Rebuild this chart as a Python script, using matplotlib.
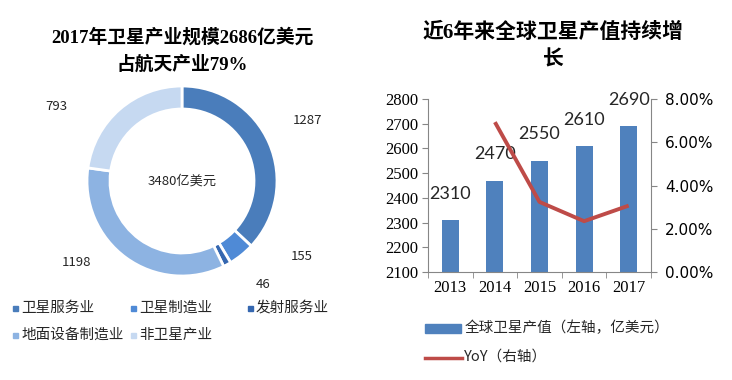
import numpy as np
import matplotlib
matplotlib.use("Agg")
import matplotlib.pyplot as plt
from matplotlib.patches import Rectangle
from matplotlib.lines import Line2D

plt.rcParams['font.family'] = ['Noto Sans CJK SC', 'DejaVu Sans']

# 左图：2017年卫星产业构成（亿美元）
segments = ['卫星服务业', '卫星制造业', '发射服务业', '地面设备制造业', '非卫星产业']
segment_values = [1287, 155, 46, 1198, 793]
total_label = '3480亿美元'

# 右图：全球卫星产值
years = ['2013', '2014', '2015', '2016', '2017']
output_values = [2310, 2470, 2550, 2610, 2690]
yoy_years = ['2014', '2015', '2016', '2017']
yoy_values = [6.93, 3.24, 2.35, 3.07]   # %

seg_colors = ['#4a7dbb', '#4f8ad6', '#3567b0', '#8db3e2', '#c6d9f1']
bar_color = '#4f81bd'
line_color = '#be4b48'
axis_gray = '#868686'

W, H = 732, 380
fig = plt.figure(figsize=(W / 100, H / 100), dpi=100)

# ---------- 左：环形图 ----------
axp = fig.add_axes([0, 0, 366 / W, 1])
cx, cy, R = 182, H - 181, 95
axp.pie(segment_values, colors=seg_colors, startangle=90, counterclock=False,
        center=(cx, cy), radius=R,
        wedgeprops=dict(width=23, edgecolor='white', linewidth=2))
axp.set_xlim(0, 366)
axp.set_ylim(0, H)
axp.set_aspect('auto')
axp.axis('off')

# 全图像素坐标的覆盖层（y向下）
ov = fig.add_axes([0, 0, 1, 1])
ov.set_xlim(0, W)
ov.set_ylim(H, 0)
ov.axis('off')

ov.text(182, 51, '2017年卫星产业规模2686亿美元\n占航天产业79%', ha='center', va='center',
        fontsize=13.5, fontweight='heavy', linespacing=1.6,
        family=['Liberation Serif', 'Noto Sans CJK SC'])
ov.text(182, 181, total_label, ha='center', va='center', fontsize=9.5, color='#262626')

label_pos = [(308, 120), (302, 257), (263, 285), (77, 263), (56, 107)]
for v, (px, py) in zip(segment_values, label_pos):
    ov.text(px, py, str(v), ha='center', va='center', fontsize=9.5, color='#262626')

legend_pos = [(15, 308), (133, 308), (250, 308), (15, 335), (133, 335)]
for name, c, (px, py) in zip(segments, seg_colors, legend_pos):
    ov.add_patch(Rectangle((px - 2, py - 2), 4.5, 4.5, color=c))
    ov.text(px + 6, py, name, ha='left', va='center', fontsize=10.5, color='#262626')

# ---------- 右：柱状图 + 折线 ----------
left, right, top, bottom = 428, 651, 99, 272
ax = fig.add_axes([left / W, 1 - bottom / H, (right - left) / W, (bottom - top) / H])
x = np.arange(len(years))
ax.bar(x, output_values, width=0.38, color=bar_color, zorder=2)
ax.set_xlim(-0.5, len(years) - 0.5)
ax.set_ylim(2100, 2800)
ax.set_yticks(np.arange(2100, 2801, 100))
ax.set_xticks(x)
ax.set_xticklabels(years)
ax.set_xticks(np.arange(-0.5, len(years), 1), minor=True)
ax.tick_params(axis='x', which='major', length=0, pad=6)
ax.tick_params(axis='x', which='minor', length=4, color=axis_gray, direction='out')
ax.tick_params(axis='y', length=4, color=axis_gray, direction='out', pad=3)
for lab in ax.get_xticklabels() + ax.get_yticklabels():
    lab.set_family('Liberation Serif')
    lab.set_fontsize(12)
for s in ['top', 'right']:
    ax.spines[s].set_visible(False)
for s in ['left', 'bottom']:
    ax.spines[s].set_color(axis_gray)
ax.patch.set_alpha(0)

for xi, v in zip(x, output_values):
    ax.annotate(str(v), (xi, v), xytext=(0, 19), textcoords='offset points',
                ha='center', va='center', fontsize=13, family='Lato', color='#262626')

ax2 = ax.twinx()
yx = [years.index(y) for y in yoy_years]
ax2.plot(yx, yoy_values, color=line_color, lw=2.8, solid_capstyle='butt', zorder=3)
ax2.set_ylim(0, 8)
ax2.set_yticks(np.arange(0, 8.1, 2))
ax2.set_yticklabels(['%.2f%%' % t for t in np.arange(0, 8.1, 2)])
ax2.tick_params(axis='y', length=4, color=axis_gray, direction='out', pad=6)
for lab in ax2.get_yticklabels():
    lab.set_family('DejaVu Sans')
    lab.set_fontsize(11)
for s in ['top', 'left', 'bottom']:
    ax2.spines[s].set_visible(False)
ax2.spines['right'].set_color(axis_gray)

ov.text(553, 47, '近6年来全球卫星产值持续增\n长', ha='center', va='center',
        fontsize=15, fontweight='bold', linespacing=1.5,
        family=['Liberation Serif', 'Noto Sans CJK SC'])

ov.add_patch(Rectangle((425, 324), 36, 9, color=bar_color))
ov.text(465, 328, '全球卫星产值（左轴，亿美元）', ha='left', va='center', fontsize=10.5, color='#262626')
ov.add_line(Line2D([425, 462], [357.5, 357.5], color=line_color, lw=2.5))
ov.text(464, 357, 'YoY（右轴）', ha='left', va='center', fontsize=10.5, color='#262626')

fig.savefig('out.png', dpi=100)
